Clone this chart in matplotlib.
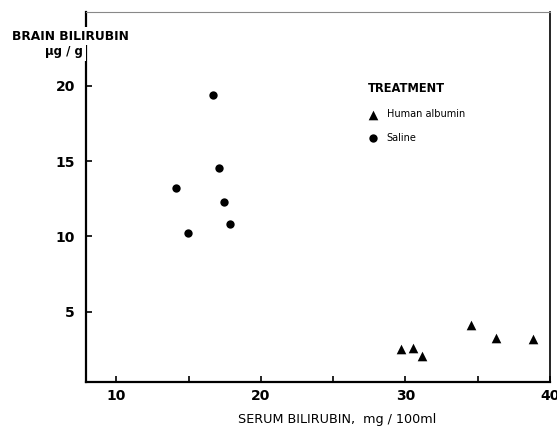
import matplotlib
matplotlib.use("Agg")
import matplotlib.pyplot as plt

# Data
saline_x = [16.7, 17.1, 14.1, 17.45, 17.85, 14.95]
saline_y = [19.4, 14.55, 13.2, 12.3, 10.8, 10.25]
albumin_x = [29.7, 30.55, 31.15, 34.55, 36.25, 38.85]
albumin_y = [2.5, 2.57, 2.08, 4.1, 3.27, 3.2]
x_ticks = [10, 20, 30, 40]
y_ticks = [5, 10, 15, 20]

plt.rcParams['font.family'] = ['DejaVu Sans']
fig = plt.figure(figsize=(5.57, 4.28), dpi=100)
ax = fig.add_axes([86/557, 1-382/428, 464/557, 370/428])

ax.scatter(albumin_x, albumin_y, marker='^', s=48, color='black', linewidths=0, label='Human albumin')
ax.scatter(saline_x, saline_y, marker='o', s=36, color='black', linewidths=0, label='Saline')

ax.set_xlim(7.9, 40)
ax.set_ylim(0.33, 24.9)
ax.set_xticks([5*i for i in range(2, 9)])
ax.set_xticklabels(['10', '', '20', '', '30', '', '40'])
ax.set_yticks(y_ticks)
ax.set_yticklabels([str(v) for v in y_ticks])
ax.tick_params(direction='in', length=4, width=1.2, labelsize=10)
ax.tick_params(axis='x', pad=5)
ax.tick_params(axis='y', pad=8)
for lab in ax.get_xticklabels() + ax.get_yticklabels():
    lab.set_fontweight('bold')

for s in ['left', 'bottom']:
    ax.spines[s].set_linewidth(1.6)
ax.spines['right'].set_linewidth(1.2)
ax.spines['top'].set_linewidth(0.8)
ax.spines['top'].set_color('#888888')

fig.text(70/557, 1-36/428, 'BRAIN BILIRUBIN', ha='center', va='center', fontsize=8.8,
         fontweight='bold', bbox=dict(facecolor='white', edgecolor='none', pad=2))
fig.text(64/557, 1-52/428, 'µg / g', ha='center', va='center', fontsize=8.5,
         fontweight='bold', bbox=dict(facecolor='white', edgecolor='none', pad=2))
fig.text(337/557, 1-420/428, 'SERUM BILIRUBIN,  mg / 100ml', ha='center', va='center', fontsize=9.2)

leg = ax.legend(loc='upper left', bbox_to_anchor=(0.6, 0.82), frameon=False,
                title='TREATMENT', fontsize=7, handletextpad=0.9, labelspacing=1.4,
                alignment='left', handlelength=1.0, borderaxespad=0)
leg.get_title().set_fontweight('bold')
leg.get_title().set_fontsize(8.3)
leg._legend_box.sep = 10

fig.savefig('out.png', dpi=100)
